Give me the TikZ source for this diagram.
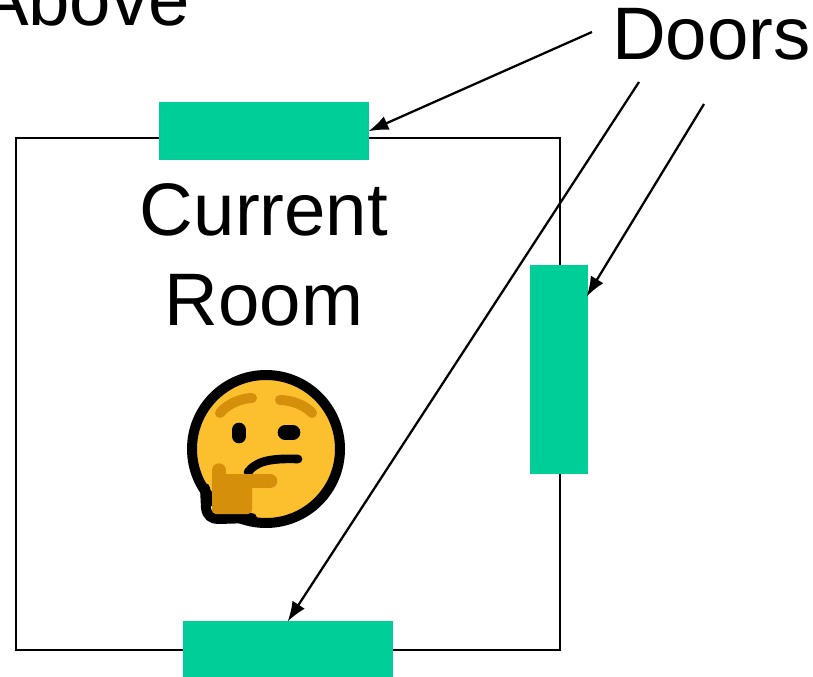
\documentclass[tikz,border=0pt]{standalone}
\usepackage{fontspec}
\setmainfont{Liberation Sans}
\usetikzlibrary{arrows.meta}
\definecolor{doorgreen}{HTML}{00CE98}
\definecolor{faceyellow}{HTML}{FCC02F}
\definecolor{handorange}{HTML}{D68F0B}
\tikzset{
	door/.style={fill=doorgreen, draw=none, inner sep=0pt, outer sep=0pt},
	label/.style={inner sep=0pt, outer sep=0pt, font=\fontsize{55.8}{67.5}\selectfont, align=center},
	pointer/.style={line width=1.7pt, -{Latex[length=15pt, width=11pt]}, shorten >=-0.5pt}
}

\begin{document}
\begin{tikzpicture}[x=0.75pt, y=-0.75pt]
	\useasboundingbox (0, 0) rectangle (813, 677);
	\clip (0, 0) rectangle (813, 677);

	\draw[line width=1.7pt] (16, 138) rectangle (560, 650);

	\node[door, minimum width=157.5pt, minimum height=43.5pt] (topdoor) at (264, 131) {};
	\node[door, minimum width=43.5pt, minimum height=156.75pt] (rightdoor) at (559, 369.5) {};
	\node[door, minimum width=157.5pt, minimum height=42.75pt] (bottomdoor) at (288, 649.5) {};

	\node[label, anchor=base west] (above) at (-21, 26) {Above};
	\node[label, anchor=base west] (doors) at (612, 60) {Doors};
	\node[label] (room) at (264, 255) {Current\\Room};

	% emoji
	\draw[line width=7.5pt, fill=faceyellow] (266, 449) circle (74);
	\draw[line width=7.5pt, line cap=round, color=handorange] (220, 413) .. controls (227, 404) and (242, 398) .. (252, 398);
	\draw[line width=7.5pt, line cap=round, color=handorange] (280, 400) .. controls (291, 400) and (305, 405) .. (312, 413);
	\draw[line width=11pt, line cap=round] (239, 430) -- (239, 436);
	\draw[line width=11pt, line cap=round] (285, 432.5) -- (293, 432.5);
	\draw[line width=6.5pt, line cap=round] (248, 472) .. controls (256, 462) and (268, 458) .. (298, 459);
	\draw[line width=7.5pt, line cap=round, line join=round] (205, 488) -- (206, 508) .. controls (207, 516) and (212, 519) .. (218, 519) -- (252, 518);
	\draw[line width=10pt, line cap=round, color=handorange] (219, 470) -- (219, 500);
	\draw[line width=11pt, line cap=round, color=handorange] (224, 481) -- (270, 481);
	\fill[color=handorange, rounded corners=3pt] (212, 478) rectangle (252, 514);

	\coordinate (topstart) at (592, 32);
	\coordinate (rightstart) at (704, 104);
	\coordinate (bottomstart) at (639, 82);
	\coordinate (righttip) at (587, 296);

	\draw[pointer] (topstart) -- (topdoor.east);
	\draw[pointer] (rightstart) -- (righttip);
	\draw[pointer] (bottomstart) -- (bottomdoor.north);
\end{tikzpicture}
\end{document}
